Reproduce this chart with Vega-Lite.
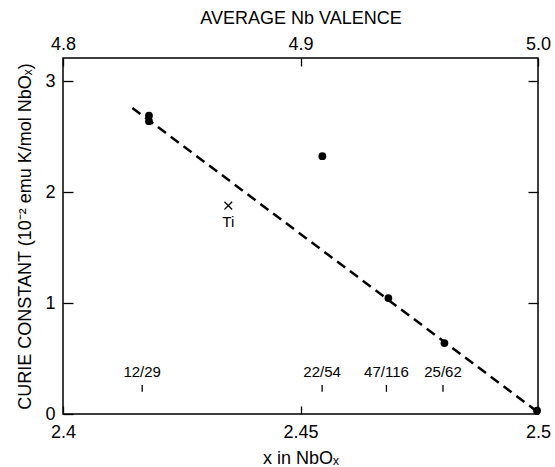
{
  "$schema": "https://vega.github.io/schema/vega-lite/v6.json",
  "width": 475,
  "height": 356,
  "autosize": {"type": "none"},
  "padding": {"left": 63, "top": 58, "right": 17, "bottom": 53},
  "background": "white",
  "config": {
    "font": "Liberation Sans",
    "view": {"stroke": "black", "strokeWidth": 1.5},
    "axis": {
      "grid": false,
      "domain": false,
      "tickColor": "black",
      "tickWidth": 1.3,
      "labelColor": "black",
      "titleColor": "black",
      "labelFontSize": 18,
      "titleFontSize": 18,
      "titleFontWeight": "normal",
      "labelFont": "Liberation Sans",
      "titleFont": "Liberation Sans"
    }
  },
  "datasets": {
    "pts": [
      {"x": 2.4181, "c": 2.69},
      {"x": 2.4181, "c": 2.64},
      {"x": 2.4546, "c": 2.325},
      {"x": 2.4685, "c": 1.045},
      {"x": 2.4803, "c": 0.64},
      {"x": 2.4998, "c": 0.03}
    ],
    "fit": [
      {"x": 2.4146, "c": 2.76},
      {"x": 2.4996, "c": 0.03}
    ],
    "ti": [
      {"x": 2.4348, "c": 1.879, "label": "Ti"}
    ],
    "ratios": [
      {"x": 2.41667, "label": "12/29"},
      {"x": 2.45455, "label": "22/54"},
      {"x": 2.46809, "label": "47/116"},
      {"x": 2.48, "label": "25/62"}
    ]
  },
  "resolve": {"axis": {"x": "independent", "y": "independent"}},
  "layer": [
    {
      "data": {"name": "fit"},
      "mark": {"type": "line", "color": "black", "strokeWidth": 2.5, "strokeDash": [10, 6]},
      "encoding": {
        "x": {
          "field": "x", "type": "quantitative",
          "scale": {"domain": [2.4, 2.5], "nice": false, "zero": false},
          "axis": {
            "orient": "bottom",
            "values": [2.4, 2.45, 2.5],
            "labelExpr": "datum.value == 2.4 ? '2.4' : datum.value == 2.5 ? '2.5' : '2.45'",
            "tickSize": -8,
            "labelPadding": 17,
            "labelFlush": false,
            "title": "x in NbOₓ",
            "titlePadding": 8
          }
        },
        "y": {
          "field": "c", "type": "quantitative",
          "scale": {"domain": [0, 3.21], "nice": false, "zero": false},
          "axis": {
            "orient": "left",
            "values": [0, 1, 2, 3],
            "tickSize": -10,
            "labelPadding": 18,
            "labelFlush": false,
            "title": "CURIE CONSTANT (10⁻² emu K/mol  NbOₓ)",
            "titlePadding": 10
          }
        }
      }
    },
    {
      "data": {"name": "pts"},
      "mark": {"type": "point", "filled": true, "color": "black", "size": 60, "opacity": 1, "clip": false},
      "encoding": {
        "x": {
          "field": "x", "type": "quantitative",
          "axis": {
            "orient": "top",
            "values": [2.4, 2.45, 2.5],
            "labelExpr": "format(datum.value * 2, '.1f')",
            "tickSize": -8,
            "labelPadding": 13,
            "labelFlush": false,
            "title": "AVERAGE Nb VALENCE",
            "titlePadding": 8
          }
        },
        "y": {
          "field": "c", "type": "quantitative",
          "axis": {
            "orient": "right",
            "values": [1, 2, 3],
            "tickSize": -10,
            "labels": false,
            "title": null
          }
        }
      }
    },
    {
      "data": {"name": "ti"},
      "mark": {"type": "point", "shape": "M-1,-1L1,1M-1,1L1,-1", "filled": false, "color": "black", "stroke": "black", "strokeWidth": 1.2, "size": 60, "opacity": 1},
      "encoding": {
        "x": {"field": "x", "type": "quantitative", "axis": null},
        "y": {"field": "c", "type": "quantitative", "axis": null}
      }
    },
    {
      "data": {"name": "ti"},
      "mark": {"type": "text", "fontSize": 15, "fill": "black", "baseline": "top", "dy": 9},
      "encoding": {
        "x": {"field": "x", "type": "quantitative", "axis": null},
        "y": {"field": "c", "type": "quantitative", "axis": null},
        "text": {"field": "label"}
      }
    },
    {
      "data": {"name": "ratios"},
      "mark": {"type": "rule", "color": "black", "strokeWidth": 1.3},
      "encoding": {
        "x": {"field": "x", "type": "quantitative", "axis": null},
        "y": {"datum": 0.2, "type": "quantitative", "axis": null},
        "y2": {"datum": 0.262}
      }
    },
    {
      "data": {"name": "ratios"},
      "mark": {"type": "text", "fontSize": 15, "fill": "black", "baseline": "alphabetic"},
      "encoding": {
        "x": {"field": "x", "type": "quantitative", "axis": null},
        "y": {"datum": 0.334, "type": "quantitative", "axis": null},
        "text": {"field": "label"}
      }
    }
  ]
}
